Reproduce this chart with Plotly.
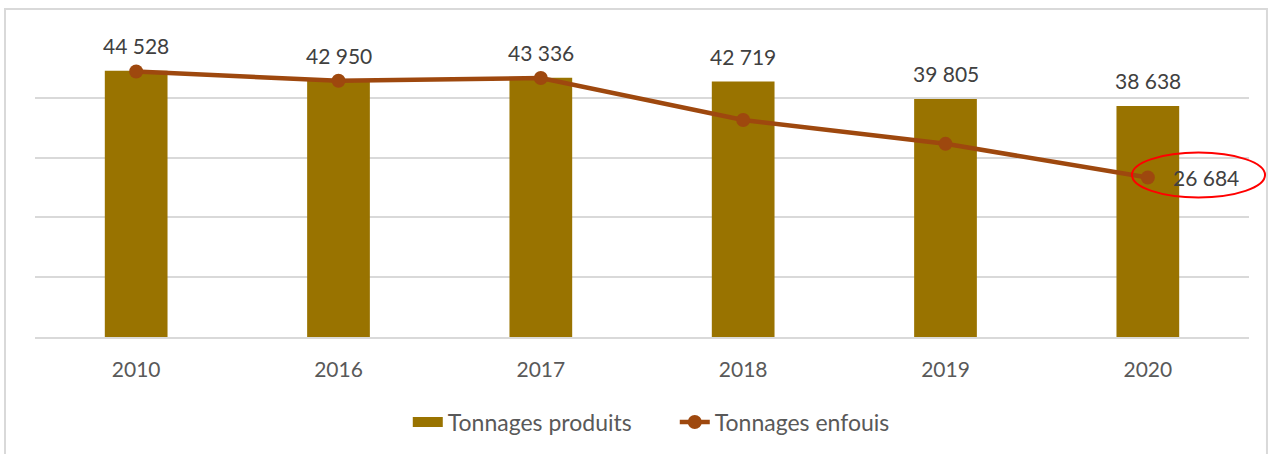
import plotly.graph_objects as go

years = ["2010", "2016", "2017", "2018", "2019", "2020"]
produits = [44528, 42950, 43336, 42719, 39805, 38638]
enfouis = [44400, 42850, 43300, 36300, 32300, 26684]
produits_labels = ["44 528", "42 950", "43 336", "42 719", "39 805", "38 638"]
enfouis_last_label = "26 684"

BAR = "#997300"
LINE = "#9E480E"
FONT = "Lato, Carlito, Calibri, sans-serif"

fig = go.Figure()
fig.add_trace(go.Bar(x=years, y=produits, name="Tonnages produits", showlegend=False,
                     marker=dict(color=BAR, line=dict(width=0)), width=0.31))
# legend proxy giving a wide rectangular swatch for the bars
fig.add_trace(go.Scatter(x=[None], y=[None], name="Tonnages produits", mode="lines",
                         line=dict(color=BAR, width=12), hoverinfo="skip"))
fig.add_trace(go.Scatter(x=years, y=enfouis, name="Tonnages enfouis", mode="lines+markers",
                         line=dict(color=LINE, width=4.5), marker=dict(color=LINE, size=14)))

for i, (v, lab) in enumerate(zip(produits, produits_labels)):
    fig.add_annotation(x=i, y=v, text=lab, showarrow=False, yshift=25,
                       font=dict(size=21, color="#404040", family=FONT))
fig.add_annotation(x=len(years) - 1, y=enfouis[-1], text=enfouis_last_label, showarrow=False,
                   xanchor="left", xshift=23, font=dict(size=21, color="#404040", family=FONT))

# outer chart frame
fig.add_shape(type="rect", xref="paper", yref="paper", x0=-0.0247, x1=1.0148, y0=-0.42, y1=1.0967,
              line=dict(color="#D9D9D9", width=2), layer="below")
# red highlight ellipse
fig.add_shape(type="circle", xref="paper", yref="paper", x0=0.9036, x1=1.0132, y0=0.4667, y1=0.6167,
              line=dict(color="#FF0000", width=2))

fig.update_layout(
    width=1279, height=454,
    margin=dict(l=35, r=30, t=38, b=116),
    paper_bgcolor="white", plot_bgcolor="white",
    font=dict(family=FONT, size=21, color="#595959"),
    showlegend=True,
    legend=dict(orientation="h", x=0.527, xanchor="center", y=-0.28, yanchor="middle",
                font=dict(size=23, color="#595959"), traceorder="normal", entrywidth=222),
)
fig.update_xaxes(type="category", range=[-0.5, len(years) - 0.5], showgrid=False, showline=True,
                 linecolor="#D9D9D9", linewidth=2,
                 ticks="", ticklabelstandoff=13, tickfont=dict(size=21, color="#595959"))
fig.update_yaxes(range=[0, 50000], dtick=10000, showgrid=True, gridcolor="#D9D9D9", gridwidth=2,
                 showticklabels=False, zeroline=False)

fig.write_html("out.html")
